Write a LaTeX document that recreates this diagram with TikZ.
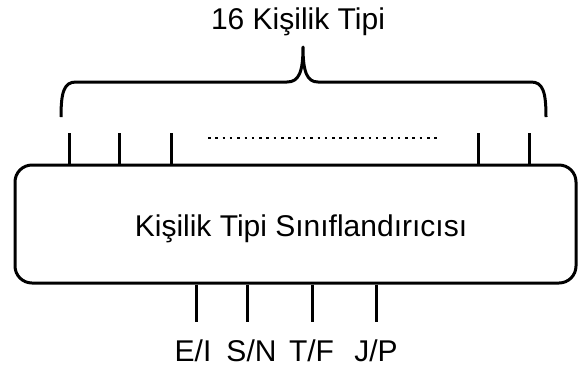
\documentclass[tikz,border=0pt]{standalone}
\usepackage{fontspec}
\setmainfont{Liberation Sans}
\begin{document}
\begin{tikzpicture}[x=1pt,y=-1pt,
  stroke/.style={line width=3pt},
  txt/.style={font=\fontsize{30}{36}\selectfont, inner sep=0pt, anchor=base},
  classifier/.style={draw, stroke, rounded corners=17pt, minimum width=561pt,
    minimum height=118pt, inner sep=0pt},
  dotrow/.style={line width=2.5pt, dash pattern=on 2.5pt off 4.8pt}]
\useasboundingbox (0,0) rectangle (578,368);

% title and brace
\node[txt] (title) at (298,29) {16 Kişilik Tipi};
\coordinate (bl) at (61,117);
\coordinate (br) at (546,117);
\coordinate (tip) at (303,47);
\draw[stroke, line join=round]
  (bl) .. controls (61,92) and (64,82) .. (76,82) -- (287,82)
  .. controls (299,82) and (303,72) .. (tip)
  .. controls (303,72) and (307,82) .. (318,82) -- (531,82)
  .. controls (543,82) and (546,92) .. (br);

% classifier box
\node[classifier] (box) at (295.5,224) {};
\node[txt] (name) at (301,236) {Kişilik Tipi Sınıflandırıcısı};

% output ticks on top
\foreach \x [count=\i] in {69,119,171,478,529} {
  \coordinate (o\i) at (\x,133);
  \draw[stroke] (box.north -| o\i) -- (o\i);
}
\coordinate (ds) at (208,138);
\coordinate (de) at (438,138);
\draw[dotrow] (ds) -- (de);

% input ticks and labels below
\foreach \x/\lab [count=\i] in {193/E\slash I,251.5/S\slash N,311.5/T\slash F,376/J\slash P} {
  \node[txt] (in\i) at (\x,361) {\lab};
}
\foreach \x [count=\i] in {196,247,312,376} {
  \coordinate (t\i) at (\x,322);
  \draw[stroke] (box.south -| t\i) -- (t\i);
}
\end{tikzpicture}
\end{document}
